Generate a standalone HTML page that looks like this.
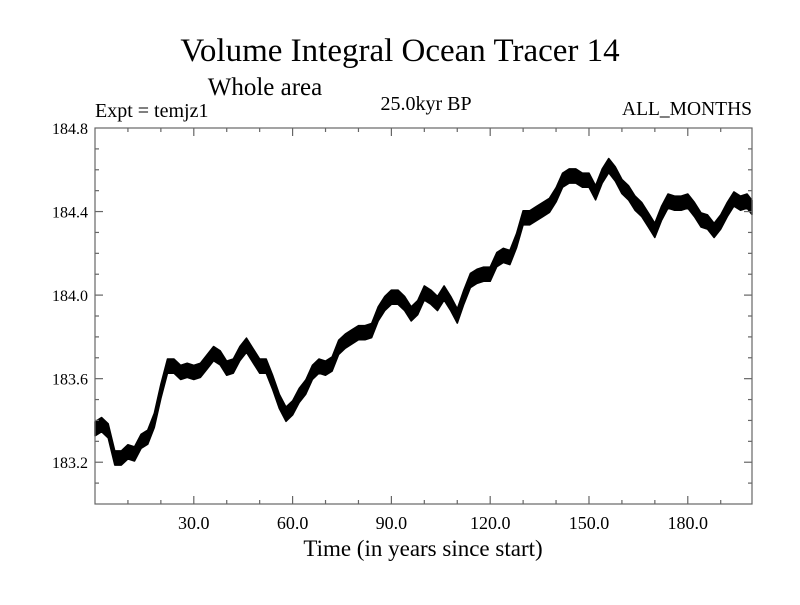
<!DOCTYPE html>
<html><head><meta charset="utf-8"><style>
body{margin:0;background:#fff}
svg text{font-family:"Liberation Serif",serif;fill:#000}
</style></head><body>
<svg id="chart" width="800" height="600" viewBox="0 0 800 600">
<rect width="800" height="600" fill="#fff"/>
<text x="400" y="61" font-size="33" text-anchor="middle">Volume Integral Ocean Tracer 14</text>
<text x="265" y="95" font-size="25" text-anchor="middle">Whole area</text>
<text x="95" y="117" font-size="20">Expt = temjz1</text>
<text x="426" y="110" font-size="20" text-anchor="middle">25.0kyr BP</text>
<text x="752" y="115" font-size="19.5" text-anchor="end">ALL_MONTHS</text>
<text x="423" y="556" font-size="23" text-anchor="middle">Time (in years since start)</text>
<g id="plot"></g>
</svg>
<script>
const years = [0,2,4,6,8,10,12,14,16,18,20,22,24,26,28,30,32,34,36,38,40,42,44,46,48,50,52,54,56,58,60,62,64,66,68,70,72,74,76,78,80,82,84,86,88,90,92,94,96,98,100,102,104,106,108,110,112,114,116,118,120,122,124,126,128,130,132,134,136,138,140,142,144,146,148,150,152,154,156,158,160,162,164,166,168,170,172,174,176,178,180,182,184,186,188,190,192,194,196,198,199.5];
const tracer = [183.36,183.38,183.35,183.22,183.22,183.25,183.24,183.30,183.32,183.40,183.54,183.66,183.66,183.63,183.64,183.63,183.64,183.68,183.72,183.70,183.65,183.66,183.72,183.76,183.71,183.66,183.66,183.58,183.49,183.43,183.46,183.52,183.56,183.63,183.66,183.65,183.67,183.75,183.78,183.80,183.82,183.82,183.83,183.91,183.96,183.99,183.99,183.96,183.91,183.94,184.01,183.99,183.96,184.01,183.96,183.90,183.99,184.07,184.09,184.10,184.10,184.17,184.19,184.18,184.26,184.37,184.37,184.39,184.41,184.43,184.48,184.55,184.57,184.57,184.55,184.55,184.49,184.57,184.62,184.58,184.52,184.49,184.44,184.41,184.36,184.31,184.39,184.45,184.44,184.44,184.45,184.41,184.36,184.35,184.31,184.35,184.41,184.46,184.44,184.45,184.42];
const seasonalSpread = [0.034];
const xTickLabels = ["30.0","60.0","90.0","120.0","150.0","180.0"];
const xTickValues = [30,60,90,120,150,180];
const yTickLabels = ["184.8","184.4","184.0","183.6","183.2"];
const yTickValues = [184.8,184.4,184.0,183.6,183.2];

const L=95,R=752,T=128,B=504,XMIN=0,XMAX=199.5,YMIN=183.0,YMAX=184.8;
const sx=v=>L+(v-XMIN)/(XMAX-XMIN)*(R-L);
const sy=v=>B-(v-YMIN)/(YMAX-YMIN)*(B-T);
const NS="http://www.w3.org/2000/svg";
const g=document.getElementById('plot');
function mk(tag,attrs){const e=document.createElementNS(NS,tag);for(const k in attrs)e.setAttribute(k,attrs[k]);g.appendChild(e);return e;}

let up=[],lo=[];
for(let i=0;i<years.length;i++){
  up.push(sx(years[i]).toFixed(1)+","+sy(tracer[i]+seasonalSpread[0]).toFixed(1));
  lo.unshift(sx(years[i]).toFixed(1)+","+sy(tracer[i]-seasonalSpread[0]).toFixed(1));
}
const band=mk('polygon',{points:up.concat(lo).join(" "),fill:"#000",stroke:"#000","stroke-width":"1.5","stroke-linejoin":"round"});



const fr=mk('rect',{x:L,y:T,width:R-L,height:B-T,fill:"none",stroke:"#666","stroke-width":"1.2"});



for(let v=10;v<XMAX;v+=10){
  const major=v%30===0, len=major?8:4, x=sx(v);
  const t1=mk('line',{x1:x,y1:B,x2:x,y2:B-len,stroke:"#666","stroke-width":"1.2"});
  
  
  const t2=mk('line',{x1:x,y1:T,x2:x,y2:T+len,stroke:"#666","stroke-width":"1.2"});
  
  
}
xTickValues.forEach((v,i)=>{
  const t=mk('text',{x:sx(v),y:529,"font-size":"18","text-anchor":"middle"});
  t.textContent=xTickLabels[i];
  
  
});
for(let k=1;k<18;k++){
  const v=YMIN+k*0.1, major=k%4===2, len=major?8:4, y=sy(v);
  const t1=mk('line',{x1:L,y1:y,x2:L+len,y2:y,stroke:"#666","stroke-width":"1.2"});
  
  
  const t2=mk('line',{x1:R,y1:y,x2:R-len,y2:y,stroke:"#666","stroke-width":"1.2"});
  
  
}
yTickValues.forEach((v,i)=>{
  const t=mk('text',{x:88,y:sy(v)+6,"font-size":"16","text-anchor":"end"});
  t.textContent=yTickLabels[i];
  
  
});
</script>
</body></html>
